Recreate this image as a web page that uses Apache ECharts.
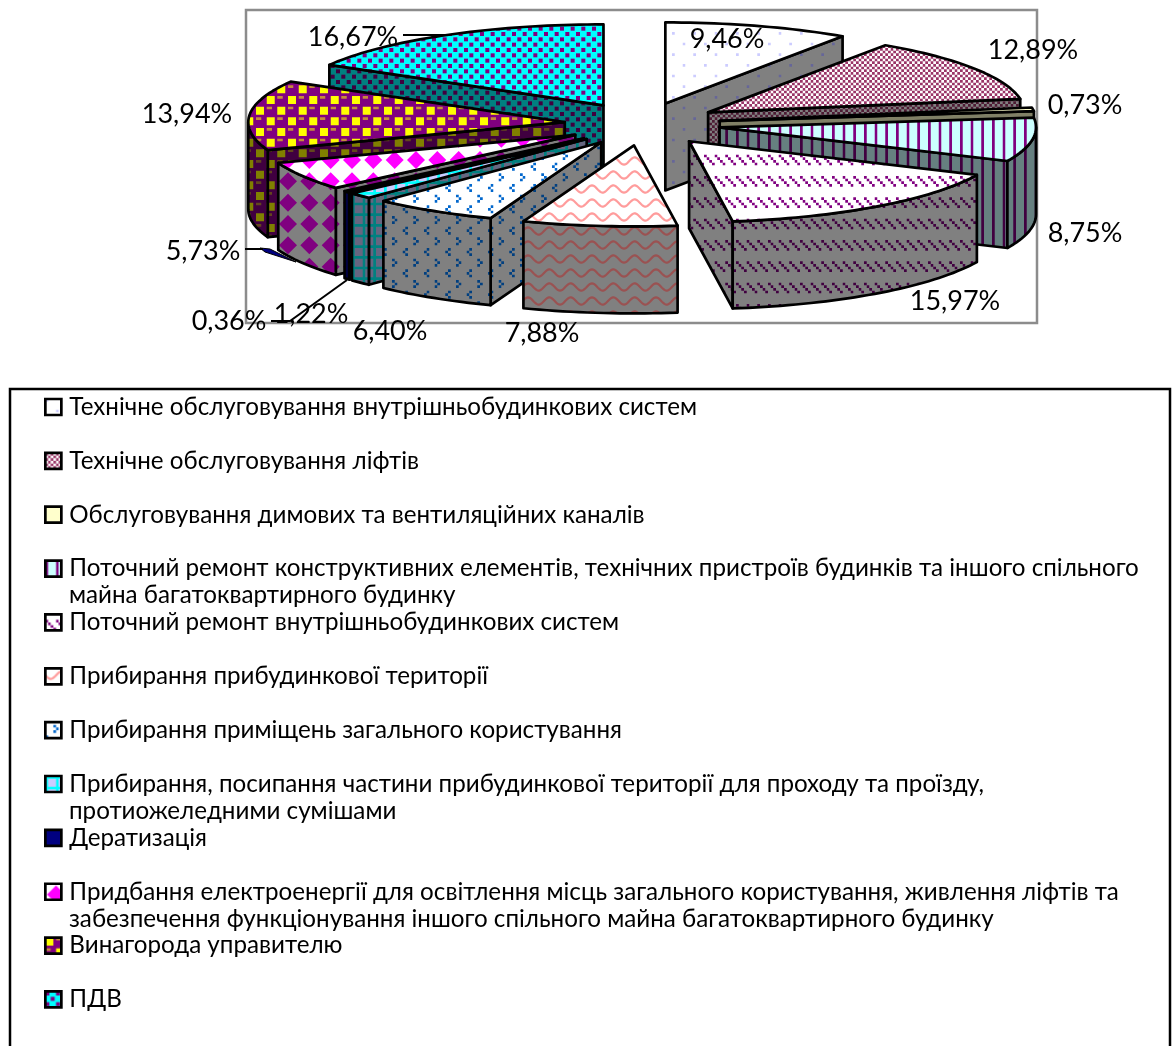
<!DOCTYPE html>
<html>
<head>
<meta charset="utf-8">
<style>html,body{margin:0;padding:0;background:#fff}#chart{width:1176px;height:1046px}</style>
<script src="https://cdn.jsdelivr.net/npm/echarts@6/dist/echarts.min.js"></script>
</head>
<body>
<div id="chart"></div>
<script>
// Структура тарифу: частка кожної послуги, %
const categories = [
  'Технічне обслуговування внутрішньобудинкових систем',
  'Технічне обслуговування ліфтів',
  'Обслуговування димових та вентиляційних каналів',
  'Поточний ремонт конструктивних елементів, технічних пристроїв будинків та іншого спільного',
  'Поточний ремонт внутрішньобудинкових систем',
  'Прибирання прибудинкової території',
  'Прибирання приміщень загального користування',
  'Прибирання, посипання частини прибудинкової території для проходу та проїзду,',
  'Дератизація',
  'Придбання електроенергії для освітлення місць загального користування, живлення ліфтів та',
  'Винагорода управителю',
  'ПДВ'
];
const continuationLines = {
  3: 'майна багатоквартирного будинку',
  7: 'протиожеледними сумішами',
  9: 'забезпечення функціонування іншого спільного майна багатоквартирного будинку'
};
const shares = [9.46, 12.89, 0.73, 8.75, 15.97, 7.88, 6.40, 1.22, 0.36, 5.73, 13.94, 16.67];

// 8-pixel fill bitmaps: '#' takes the foreground colour, '.' the background, '+' a mix of both
const BITMAPS = {
  dots: ['#.......','........','........','........','....#...','........','........','........'],
  checker: ['#.','.#'],
  solid: ['.'],
  vstripe: ['#...'],
  dashDiag: ['........','........','#...#...','.#...#..','..#...#.','...#...#','........','........'],
  divot: ['........','...#....','....#...','...#....','........','#.......','.......#','#.......'],
  grid: ['####','#...','#...','#...'],
  sphere: ['...#++##','...#####','...#####','########','++##...#','####...#','####...#','########']
};

// Fills that read better as shapes than as stair-stepped bitmaps; each paints one whole tile
const PAINTED = {
  wave: { w: 64, h: 56, paint(c, fg) {
    c.strokeStyle = fg; c.lineWidth = 2.2; c.lineJoin = 'round';
    for (let k = -1; k <= 4; k++) {
      c.beginPath();
      for (let x = -2; x <= 66; x++) {
        c.lineTo(x, 7 + 14 * k + 3.6 * Math.sin(2 * Math.PI * x * 3 / 64));
      }
      c.stroke();
    }
  } },
  diamond: { w: 64, h: 64, paint(c, fg) {
    const p = 64 / 3, half = 9;
    c.fillStyle = fg;
    for (let i = -1; i <= 3; i++) {
      for (let j = -1; j <= 3; j++) {
        const x = p / 2 + i * p, y = p / 2 + j * p;
        c.beginPath();
        c.moveTo(x, y - half); c.lineTo(x + half, y); c.lineTo(x, y + half); c.lineTo(x - half, y);
        c.closePath();
        c.fill();
      }
    }
  } },
  dotted: { w: 32, h: 32, paint(c, fg) {
    const p = 32 / 3, size = 4;
    c.fillStyle = fg;
    for (let j = 0; j < 6; j++) {
      for (let i = 0; i < 3; i++) {
        c.fillRect((j % 2) * p / 2 + i * p, j * p / 2, size, size);
      }
    }
  } }
};

// top-face colours and wall colours (foreground, background) for each service
const fills = [
  { map: 'dots',     fg: '#ccccff', bg: '#ffffff', wallFg: '#666699', wallBg: '#808080' },
  { map: 'checker',  fg: '#993366', bg: '#ffffff', wallFg: '#4d1a33', wallBg: '#808080' },
  { map: 'solid',    fg: '#ffffcc', bg: '#ffffcc', wallFg: '#808066', wallBg: '#808066' },
  { map: 'vstripe',  fg: '#800080', bg: '#ccffff', wallFg: '#400040', wallBg: '#668080' },
  { map: 'dashDiag', fg: '#800080', bg: '#ffffff', wallFg: '#400040', wallBg: '#808080' },
  { map: 'wave',     fg: '#ff9c9c', bg: '#ffffff', wallFg: '#9a5252', wallBg: '#808080' },
  { map: 'divot',    fg: '#0066cc', bg: '#ffffff', wallFg: '#003f80', wallBg: '#808080' },
  { map: 'grid',     fg: '#00ffff', bg: '#ccccff', wallFg: '#008080', wallBg: '#666680' },
  { map: 'solid',    fg: '#000080', bg: '#000080', wallFg: '#000040', wallBg: '#000040' },
  { map: 'diamond',  fg: '#ff00ff', bg: '#ffffff', wallFg: '#800080', wallBg: '#808080' },
  { map: 'sphere',   fg: '#800080', bg: '#ffff00', wallFg: '#400040', wallBg: '#808000' },
  { map: 'dotted',   fg: '#800080', bg: '#00ffff', wallFg: '#400040', wallBg: '#008080' }
];

// Pie geometry: ellipse of the tilted disc, its thickness and the slice explosion
const PIE = { cx: 642.5, cy: 124, rx: 316.5, ry: 81, depth: 87, ex: 78, ey: 21.5 };
const OUTLINE = 2.7;
const LABEL_FONT = 'Lato, "Noto Sans", sans-serif';
const LABEL_SIZE = 27;
const labelAnchors = [
  [727, 39], [1033, 50], [1085, 105], [1085, 233], [955, 301], [542, 333],
  [390, 331], [311, 314], [229, 321], [203, 251], [187, 114], [353, 37]
];
const LEGEND = { left: 44, firstRow: 407, step: 53.86, textX: 69, size: 24.2, box: 28 };

// Each bitmap pixel spans 8/3 screen pixels: paint at 8 px per bit, then shrink by 3
function bitmapTile(rows, fg, bg) {
  const R = rows.length, C = rows[0].length;
  const big = document.createElement('canvas');
  big.width = C * 24; big.height = R * 24;
  const bc = big.getContext('2d');
  bc.fillStyle = bg;
  bc.fillRect(0, 0, big.width, big.height);
  for (let y = 0; y < R * 3; y++) {
    for (let x = 0; x < C * 3; x++) {
      const ch = rows[y % R][x % C];
      if (ch === '.') continue;
      bc.globalAlpha = ch === '+' ? 0.45 : 1;
      bc.fillStyle = fg;
      bc.fillRect(x * 8, y * 8, 8, 8);
    }
  }
  const tile = document.createElement('canvas');
  tile.width = C * 8; tile.height = R * 8;
  const tc = tile.getContext('2d');
  tc.imageSmoothingEnabled = true;
  tc.imageSmoothingQuality = 'high';
  tc.filter = 'blur(0.5px)';
  for (let ox = -1; ox <= 1; ox++) {
    for (let oy = -1; oy <= 1; oy++) {
      tc.drawImage(big, ox * tile.width, oy * tile.height, tile.width, tile.height);
    }
  }
  return tile;
}

function paintedTile(def, fg, bg) {
  const tile = document.createElement('canvas');
  tile.width = def.w; tile.height = def.h;
  const c = tile.getContext('2d');
  c.fillStyle = bg;
  c.fillRect(0, 0, def.w, def.h);
  def.paint(c, fg);
  return tile;
}

function buildPattern(map, fg, bg) {
  const image = PAINTED[map] ? paintedTile(PAINTED[map], fg, bg) : bitmapTile(BITMAPS[map], fg, bg);
  return { image, repeat: 'repeat' };
}

const topPatterns = fills.map(f => buildPattern(f.map, f.fg, f.bg));
const wallPatterns = fills.map(f => buildPattern(f.map, f.wallFg, f.wallBg));

// Share -> angle scale, clockwise from twelve o'clock
const total = shares.reduce((a, b) => a + b, 0);
const toAngle = s => (s / total) * 360;
const startAngles = [];
shares.reduce((acc, v, i) => { startAngles[i] = toAngle(acc); return acc + v; }, 0);

const rad = d => d * Math.PI / 180;
const rim = (apex, deg, drop) => [
  apex[0] + PIE.rx * Math.sin(rad(deg)),
  apex[1] - PIE.ry * Math.cos(rad(deg)) + (drop || 0)
];
function arcPoints(apex, a, b, drop) {
  const n = Math.max(2, Math.ceil(Math.abs(b - a) / 1.5));
  const pts = [];
  for (let i = 0; i <= n; i++) pts.push(rim(apex, a + (b - a) * i / n, drop));
  return pts;
}

function renderSlice(params, api) {
  const i = api.value(1);
  const a = startAngles[i];
  const b = a + toAngle(api.value(0));
  const mid = (a + b) / 2;
  const apex = [PIE.cx + PIE.ex * Math.sin(rad(mid)), PIE.cy - PIE.ey * Math.cos(rad(mid))];
  const edge = { stroke: '#000', lineWidth: OUTLINE, lineJoin: 'round' };
  const wallStyle = Object.assign({ fill: wallPatterns[i] }, edge);
  const drop = [apex[0], apex[1] + PIE.depth];
  const children = [];
  const cutWall = deg => {
    const p = rim(apex, deg);
    children.push({ type: 'polygon', shape: { points: [apex, p, [p[0], p[1] + PIE.depth], drop] }, style: wallStyle });
  };
  // cut faces are visible only when they turn towards the viewer
  if (Math.sin(rad(a)) < 0) cutWall(a);
  if (Math.sin(rad(b)) > 0) cutWall(b);
  const from = Math.max(a, 90), to = Math.min(b, 270);
  if (to > from) {
    children.push({
      type: 'polygon',
      shape: { points: arcPoints(apex, from, to).concat(arcPoints(apex, to, from, PIE.depth)) },
      style: wallStyle
    });
  }
  children.push({
    type: 'polygon',
    shape: { points: [apex].concat(arcPoints(apex, a, b)) },
    style: Object.assign({ fill: topPatterns[i] }, edge)
  });
  return { type: 'group', children };
}

const midCos = i => Math.cos(rad(startAngles[i] + toAngle(shares[i]) / 2));
// back slices first so nearer ones overlap them
const paintOrder = shares.map((_, i) => i).sort((p, q) => midCos(q) - midCos(p));

const sliceSeries = paintOrder.map(i => ({
  type: 'custom',
  name: categories[i],
  coordinateSystem: 'none',
  renderItem: renderSlice,
  silent: true,
  animation: false,
  itemStyle: { color: topPatterns[i] },
  data: [[shares[i], i]]
}));

const labelSeries = {
  type: 'custom',
  name: 'labels',
  coordinateSystem: 'none',
  silent: true,
  animation: false,
  z: 5,
  data: shares.map((v, i) => [v, i]),
  renderItem: (params, api) => {
    const i = api.value(1);
    return {
      type: 'text',
      style: {
        text: api.value(0).toFixed(2).replace('.', ',') + '%',
        x: labelAnchors[i][0], y: labelAnchors[i][1],
        align: 'center', verticalAlign: 'middle',
        fontFamily: LABEL_FONT, fontSize: LABEL_SIZE, fill: '#000'
      }
    };
  }
};

const lineStyle = { stroke: '#000', lineWidth: 2, fill: null };
const graphics = [
  { type: 'rect', z: -2, shape: { x: 246, y: 10, width: 791, height: 313 }, style: { fill: '#fff', stroke: '#8c8c8c', lineWidth: 2.5 } },
  { type: 'rect', z: -2, shape: { x: 10, y: 389, width: 1160, height: 700 }, style: { fill: '#fff', stroke: '#000', lineWidth: 2.5 } },
  { type: 'polyline', z: 6, shape: { points: [[403, 35], [447, 35]] }, style: lineStyle },
  { type: 'polyline', z: 6, shape: { points: [[245, 249], [263, 249]] }, style: lineStyle },
  { type: 'polygon', z: 1, shape: { points: [[260, 248], [270, 249], [296, 262], [265, 252]] }, style: { fill: '#000080', stroke: '#000', lineWidth: 1 } },
  { type: 'polyline', z: 6, shape: { points: [[271, 321], [290, 321], [347, 280]] }, style: lineStyle }
];
Object.keys(continuationLines).forEach(k => {
  graphics.push({
    type: 'text', z: 6,
    style: {
      text: continuationLines[k],
      x: LEGEND.textX, y: LEGEND.firstRow + LEGEND.step * k + 27,
      verticalAlign: 'middle',
      fontFamily: LABEL_FONT, fontSize: LEGEND.size, fill: '#000'
    }
  });
});

const chart = echarts.init(document.getElementById('chart'), null, { renderer: 'canvas' });
chart.setOption({
  animation: false,
  backgroundColor: '#fff',
  graphic: graphics,
  legend: {
    orient: 'vertical',
    left: LEGEND.left,
    top: LEGEND.firstRow - LEGEND.box / 2,
    padding: 0,
    itemWidth: 16,
    itemHeight: 16,
    itemGap: LEGEND.step - LEGEND.box,
    icon: 'rect',
    selectedMode: false,
    data: categories.map((name, i) => ({
      name,
      itemStyle: { color: topPatterns[i], borderColor: '#000', borderWidth: OUTLINE }
    })),
    textStyle: {
      fontFamily: LABEL_FONT, fontSize: LEGEND.size, color: '#000',
      lineHeight: LEGEND.box, padding: [0, 0, 0, 3]
    }
  },
  series: sliceSeries.concat([labelSeries])
});
</script>
</body>
</html>
